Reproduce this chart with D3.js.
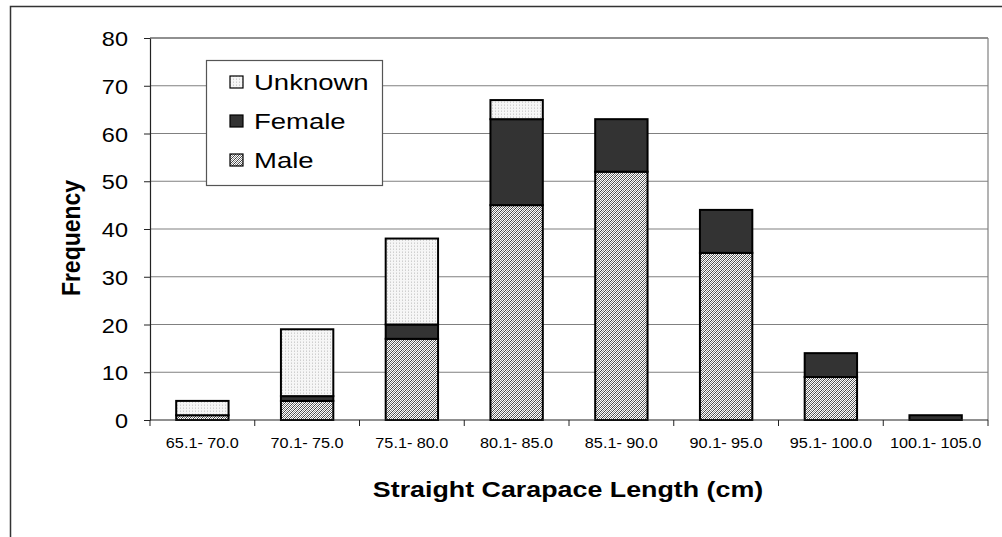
<!DOCTYPE html>
<html>
<head>
<meta charset="utf-8">
<script src="https://cdn.jsdelivr.net/npm/d3@7"></script>
<style>
body { margin: 0; background: #fff; }
text { font-family: "Liberation Sans", Arial, sans-serif; fill: #000; }
</style>
</head>
<body>
<div id="viz"></div>
<script>
var width = 1002
var height = 537

// data
var categories = ["65.1- 70.0","70.1- 75.0","75.1- 80.0","80.1- 85.0","85.1- 90.0","90.1- 95.0","95.1- 100.0","100.1- 105.0"];
var male = [1,4,17,45,52,35,9,0];
var female = [0,1,3,18,11,9,5,1];
var unknown = [3,14,18,4,0,0,0,0];
var yTicks = [0,10,20,30,40,50,60,70,80];
var legendLabels = ["Unknown","Female","Male"];

var sx = 1.12; // the reference text is drawn a bit wide

var svg = d3.select("#viz")
	.append("svg")
	.attr("width",width)
	.attr("height",height);

var defs = svg.append("defs");

// male: fine diagonal hatch
var pm = defs.append("pattern")
	.attr("id","pMale")
	.attr("patternUnits","userSpaceOnUse")
	.attr("width",4).attr("height",4);
pm.append("rect").attr("width",4).attr("height",4).attr("fill","#fff");
for (var i = 0; i < 4; i++) {
	pm.append("rect").attr("x",i).attr("y",3-i).attr("width",1).attr("height",1).attr("fill","#444");
	pm.append("rect").attr("x",i).attr("y",(5-i)%4).attr("width",1).attr("height",1).attr("fill","#8a8a8a");
}

// unknown: light dots
var pu = defs.append("pattern")
	.attr("id","pUnknown")
	.attr("patternUnits","userSpaceOnUse")
	.attr("width",3).attr("height",3);
pu.append("rect").attr("width",3).attr("height",3).attr("fill","#f6f6f6");
pu.append("rect").attr("x",0).attr("y",0).attr("width",1).attr("height",1).attr("fill","#cfcfcf");
pu.append("rect").attr("x",0).attr("y",2).attr("width",1).attr("height",1).attr("fill","#e0e0e0");

var fills = {male:"url(#pMale)", female:"#333333", unknown:"url(#pUnknown)"};

// outer chart border (cropped on right and bottom)
svg.append("rect")
	.attr("x",10.5).attr("y",6.5)
	.attr("width",1000).attr("height",540)
	.attr("fill","none")
	.attr("stroke","#333")
	.attr("stroke-width",1.5);

var x = d3.scaleBand()
	.domain(categories)
	.range([150,988])
	.paddingInner(0.5)
	.paddingOuter(0.25);

var y = d3.scaleLinear()
	.domain([0,80])
	.range([420,38]);

// gridlines
svg.selectAll(".grid")
	.data(yTicks.slice(1,-1))
	.enter()
	.append("line")
	.attr("x1",150).attr("x2",988)
	.attr("y1",function(d){return y(d);})
	.attr("y2",function(d){return y(d);})
	.attr("stroke","#808080")
	.attr("stroke-width",1.2);

// plot area border top and right
svg.append("line").attr("x1",150).attr("x2",988).attr("y1",38).attr("y2",38)
	.attr("stroke","#222").attr("stroke-width",1.2);
svg.append("line").attr("x1",988).attr("x2",988).attr("y1",38).attr("y2",420)
	.attr("stroke","#808080").attr("stroke-width",1.2);

// stacked bars
var table = categories.map(function(c,i){
	return {cat:c, male:male[i], female:female[i], unknown:unknown[i]};
});
var stack = d3.stack().keys(["male","female","unknown"])(table);

stack.forEach(function(layer){
	svg.append("g")
		.selectAll("rect")
		.data(layer.filter(function(d){return d[1] > d[0];}))
		.enter()
		.append("rect")
		.attr("x",function(d){return x(d.data.cat);})
		.attr("width",x.bandwidth())
		.attr("y",function(d){return y(d[1]);})
		.attr("height",function(d){return y(d[0]) - y(d[1]);})
		.attr("fill",fills[layer.key])
		.attr("stroke","#000")
		.attr("stroke-width",2);
});

// y axis
var yAxis = d3.axisLeft(y)
	.tickValues(yTicks)
	.tickSize(6)
	.tickSizeOuter(0);

var gy = svg.append("g")
	.attr("transform","translate(150,0)")
	.call(yAxis);
gy.select(".domain").attr("stroke","#222").attr("stroke-width",1.2);
gy.selectAll(".tick line").attr("stroke","#222");
gy.selectAll(".tick text")
	.attr("x",-22/sx)
	.attr("dy","0.36em")
	.attr("transform","scale(" + sx + ",1)")
	.attr("font-size",21)
	.attr("font-family","Liberation Sans")
	.attr("fill","#000");

// x axis line and ticks at category boundaries
svg.append("line").attr("x1",150).attr("x2",988).attr("y1",420).attr("y2",420)
	.attr("stroke","#222").attr("stroke-width",1.2);
var gap = (x.step() - x.bandwidth()) / 2;
var bounds = categories.map(function(c){return x(c) - gap;}).concat([x(categories[categories.length-1]) + x.bandwidth() + gap]);
svg.selectAll(".xtick")
	.data(bounds)
	.enter()
	.append("line")
	.attr("x1",function(d){return d;}).attr("x2",function(d){return d;})
	.attr("y1",420).attr("y2",426)
	.attr("stroke","#222");

svg.selectAll(".xlabel")
	.data(categories)
	.enter()
	.append("text")
	.attr("transform",function(d){return "translate(" + (x(d) + x.bandwidth()/2) + ",448) scale(" + sx + ",1)";})
	.attr("text-anchor","middle")
	.attr("font-size",14.5)
	.text(function(d){return d;});

// axis titles
svg.append("text")
	.attr("transform","translate(568,497) scale(1.22,1)")
	.attr("text-anchor","middle")
	.attr("font-size",22)
	.attr("font-weight","bold")
	.text("Straight Carapace Length (cm)");

svg.append("text")
	.attr("transform","translate(80,238) rotate(-90) scale(1,1.15)")
	.attr("text-anchor","middle")
	.attr("font-size",23)
	.attr("font-weight","bold")
	.text("Frequency");

// legend
var legend = svg.append("g");
legend.append("rect")
	.attr("x",206.5).attr("y",60.5)
	.attr("width",176).attr("height",125)
	.attr("fill","#fff")
	.attr("stroke","#555")
	.attr("stroke-width",1.2);

var legendFills = [fills.unknown, fills.female, fills.male];
var row = legend.selectAll(".row")
	.data(legendLabels)
	.enter()
	.append("g")
	.attr("transform",function(d,i){return "translate(230," + (82 + i*39) + ")";});
row.append("rect")
	.attr("x",0).attr("y",-6)
	.attr("width",13).attr("height",12)
	.attr("fill",function(d,i){return legendFills[i];})
	.attr("stroke","#000")
	.attr("stroke-width",1.2);
row.append("text")
	.attr("transform","translate(24,0) scale(1.25,1)")
	.attr("dy","0.36em")
	.attr("font-size",22)
	.text(function(d){return d;});
</script>
</body>
</html>
